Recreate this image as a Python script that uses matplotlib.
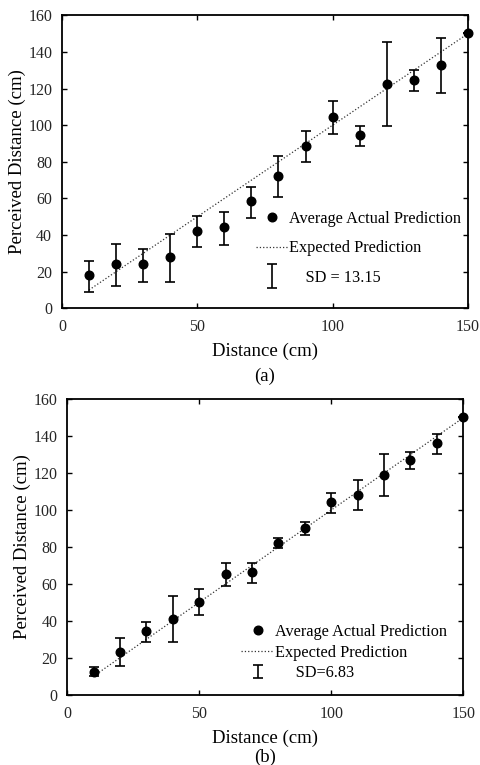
import matplotlib
matplotlib.use('Agg')
import matplotlib.pyplot as plt
import numpy as np
from matplotlib.legend_handler import HandlerErrorbar
from matplotlib.container import ErrorbarContainer

plt.rcParams['font.family'] = ['Liberation Serif', 'DejaVu Serif']

# distances (cm)
dist = [10, 20, 30, 40, 50, 60, 70, 80, 90, 100, 110, 120, 130, 140, 150]

# panel (a)
mean_a = [18, 24, 24, 28, 42.4, 44.2, 58.4, 72.4, 88.5, 104.5, 94.5, 122.7, 124.7, 132.7, 150.5]
upper_a = [26, 35.3, 32.5, 40.7, 50.5, 52.7, 66.2, 83.3, 96.9, 113.3, 99.5, 145.3, 130.2, 147.5, 150.5]
lower_a = [9.1, 12.4, 14.5, 14.5, 33.6, 34.5, 49.5, 60.9, 79.8, 95.1, 88.7, 99.6, 118.9, 117.5, 150.5]
sd_a = 'SD = 13.15'

# panel (b)
mean_b = [12.3, 23.3, 34.4, 41.0, 50.1, 65.3, 66.2, 82.3, 90.2, 104.3, 108.3, 119.1, 127.1, 136.1, 150.2]
upper_b = [14.8, 30.6, 39.4, 53.3, 57.1, 71.2, 71.1, 84.8, 93.5, 109.2, 116.3, 130.5, 131.5, 141.4, 150.2]
lower_b = [9.9, 15.5, 28.6, 28.6, 43.0, 59.1, 60.6, 79.6, 86.4, 98.5, 99.8, 107.6, 122.4, 130.5, 150.2]
sd_b = 'SD=6.83'

expected_x = [10, 150]
expected_y = [10, 150]


def draw_panel(ax, mean, lower, upper, sd_label, leg_anchor, labelspacing, yerr_size, sd_pad, xlabelpad):
    m = np.array(mean)
    yerr = [m - np.array(lower), np.array(upper) - m]
    eb = ax.errorbar(dist, mean, yerr=yerr, fmt='none', ecolor='black',
                     elinewidth=1.2, capsize=3.5, capthick=1.2, zorder=3)
    pts, = ax.plot(dist, mean, 'o', color='black', markersize=6.2, zorder=4, clip_on=False)
    exp, = ax.plot(expected_x, expected_y, ls=':', color='#333333', lw=0.9, zorder=2)

    ax.set_xlim(0, 150)
    ax.set_ylim(0, 160)
    ax.set_xticks([0, 50, 100, 150])
    ax.set_yticks(np.arange(0, 161, 20))
    ax.tick_params(direction='in', top=True, right=True, length=3.5, width=1.0,
                   labelsize=11.5, labelcolor='#262626')
    ax.tick_params(axis='x', pad=8)
    ax.tick_params(axis='y', pad=7)
    for s in ax.spines.values():
        s.set_linewidth(1.3)
    ax.set_xlabel('Distance (cm)', fontsize=13.5, labelpad=xlabelpad)
    ax.set_ylabel('Perceived Distance (cm)', fontsize=13.5, labelpad=1.5)

    eb_handle = ErrorbarContainer((None, eb.lines[1], eb.lines[2]), has_xerr=False, has_yerr=True)
    ax.legend([pts, exp, eb_handle],
              ['Average Actual Prediction', 'Expected Prediction', ' ' * sd_pad + sd_label],
              handler_map={ErrorbarContainer: HandlerErrorbar(yerr_size=yerr_size)},
              loc='center left', bbox_to_anchor=leg_anchor, frameon=False,
              fontsize=11.7, borderpad=0, borderaxespad=0, handlelength=2.0,
              handletextpad=0.05, labelspacing=labelspacing)


fig = plt.figure(figsize=(4.8, 7.65), dpi=100)
ax1 = fig.add_axes([0.129, 0.597, 0.846, 0.383])
ax2 = fig.add_axes([0.140, 0.092, 0.825, 0.386])

draw_panel(ax1, mean_a, lower_a, upper_a, sd_a, (0.477, 0.205), 0.82, 0.72, 4, 5)
draw_panel(ax2, mean_b, lower_b, upper_b, sd_b, (0.44, 0.142), 0.28, 0.42, 5, 6)

fig.text(0.552, 1 - 376 / 765, '(a)', fontsize=13.5, ha='center', va='center')
fig.text(0.552, 1 - 757 / 765, '(b)', fontsize=13.5, ha='center', va='center')

fig.savefig('out.png', dpi=100)
